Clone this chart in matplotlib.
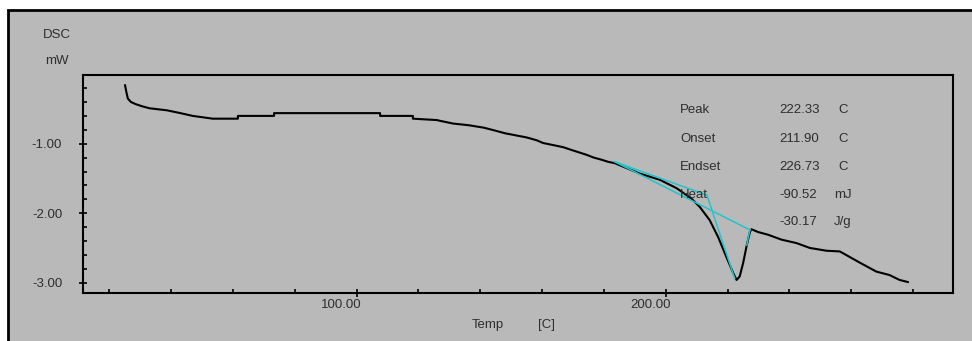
import matplotlib.pyplot as plt
from matplotlib.patches import Rectangle
from matplotlib.transforms import ScaledTranslation

# DSC trace (temperature in C, heat flow in mW)
temp = [25.1, 25.5, 26.0, 27.0, 28.5, 30.5, 33.0, 38.7, 43.0, 47.0,
        53.5, 61.6, 61.6, 73.3, 73.3, 107.6, 107.6, 118.2, 118.2, 126.0,
        126.9, 131.2, 136.4, 141.2, 144.7, 148.0, 151.5, 155.0, 158.2, 160.3,
        163.6, 166.8, 169.5, 171.6, 174.4, 176.7, 179.2, 181.3, 183.5, 191.6,
        198.1, 203.5, 208.3, 211.0, 214.2, 216.9, 219.6, 221.8, 222.9, 223.9,
        225.0, 226.1, 227.2, 227.7, 229.8, 233.1, 237.4, 242.3, 246.6, 252.0,
        256.3, 259.5, 262.7, 268.1, 272.4, 275.6, 278.3]
dsc = [-0.16, -0.25, -0.35, -0.40, -0.43, -0.46, -0.49, -0.52, -0.56, -0.60,
       -0.64, -0.64, -0.60, -0.60, -0.56, -0.56, -0.60, -0.60, -0.64, -0.66,
       -0.67, -0.71, -0.735, -0.77, -0.81, -0.85, -0.88, -0.91, -0.95, -0.99,
       -1.02, -1.05, -1.09, -1.12, -1.16, -1.20, -1.23, -1.26, -1.28, -1.43,
       -1.52, -1.64, -1.79, -1.91, -2.10, -2.34, -2.63, -2.86, -2.96, -2.91,
       -2.72, -2.48, -2.27, -2.23, -2.27, -2.31, -2.38, -2.43, -2.50, -2.54,
       -2.55, -2.63, -2.71, -2.84, -2.89, -2.96, -2.99]

# analysis lines (baseline, extrapolated baseline, leading edge tangent)
base_t = [183.5, 227.2]
base_v = [-1.26, -2.24]
ext_t = [183.5, 213.3]
ext_v = [-1.26, -1.74]
tan_t = [213.3, 222.3]
tan_v = [-1.74, -2.94]
end_t = [227.2, 226.2]
end_v = [-2.24, -2.46]

labels = ["Peak", "Onset", "Endset", "Heat", ""]
values = ["222.33", "211.90", "226.73", "-90.52", "-30.17"]
units = ["C", "C", "C", "mJ", "J/g"]

x_major = [100, 200]
x_minor = [20, 40, 60, 80, 120, 140, 160, 180, 220, 240, 260, 280]
y_major = [-1, -2, -3]
y_minor = [-0.2, -0.4, -0.6, -0.8, -1.2, -1.4, -1.6, -1.8,
           -2.2, -2.4, -2.6, -2.8]

W, H = 972, 341
bg = '#b9b9b9'
txt = '#2e2e2e'
plt.rcParams['font.family'] = ['Liberation Sans', 'DejaVu Sans']

fig = plt.figure(figsize=(W / 100, H / 100), dpi=100)
fig.patch.set_facecolor('white')

# grey panel with black frame
fig.add_artist(Rectangle((8 / W, -0.05), 1.0, 1 - 10 / H + 0.05,
                         transform=fig.transFigure, facecolor=bg,
                         edgecolor='black', linewidth=2, zorder=0))

ax = fig.add_axes([83 / W, (H - 293) / H, (952.7 - 83) / W, (293 - 75) / H])
ax.set_facecolor(bg)

ax.plot(temp, dsc, color='black', linewidth=1.5, zorder=3)
for t, v in [(base_t, base_v), (ext_t, ext_v), (tan_t, tan_v), (end_t, end_v)]:
    ax.plot(t, v, color='#22c4cc', linewidth=1.1, zorder=4)

ax.set_xlim(11.5, 292.8)
ax.set_ylim(-3.148, -0.0115)

for s in ax.spines.values():
    s.set_linewidth(1.5)
    s.set_color('black')

ax.set_xticks(x_major)
ax.set_xticklabels(['%.2f' % v for v in x_major])
ax.set_xticks(x_minor, minor=True)
ax.set_yticks(y_major)
ax.set_yticklabels(['%.2f' % v for v in y_major])
ax.set_yticks(y_minor, minor=True)

ax.tick_params(which='major', direction='inout', length=6, width=1.2,
               labelsize=9.5, labelcolor=txt)
ax.tick_params(which='minor', direction='in', length=3, width=1.2)
ax.tick_params(axis='x', which='major', pad=1)
ax.tick_params(axis='y', which='major', pad=12)

off = ScaledTranslation(5 / 100, 0, fig.dpi_scale_trans)
for lbl in ax.get_xticklabels():
    lbl.set_horizontalalignment('right')
    lbl.set_transform(lbl.get_transform() + off)

# axis titles
fig.text(57 / W, 1 - 35 / H, "DSC", ha='center', va='center',
         fontsize=9.5, color=txt)
fig.text(57 / W, 1 - 61 / H, "mW", ha='center', va='center',
         fontsize=9.5, color=txt)
fig.text(488 / W, 1 - 325 / H, "Temp", ha='center', va='center',
         fontsize=9.5, color=txt)
fig.text(546 / W, 1 - 325 / H, "[C]", ha='center', va='center',
         fontsize=9.5, color=txt)

# peak analysis results
rows_y = [110, 139.3, 167.3, 195, 221.7]
for lab, val, un, py in zip(labels, values, units, rows_y):
    fy = 1 - py / H
    fig.text(680 / W, fy, lab, ha='left', va='center', fontsize=9.5,
             color=txt, zorder=5)
    fig.text(779 / W, fy, val, ha='left', va='center', fontsize=9.5,
             color=txt, zorder=5)
    ux = 838 if un == "C" else 834
    fig.text(ux / W, fy, un, ha='left', va='center', fontsize=9.5,
             color=txt, zorder=5)

fig.savefig('out.png', dpi=100, facecolor=fig.get_facecolor())
